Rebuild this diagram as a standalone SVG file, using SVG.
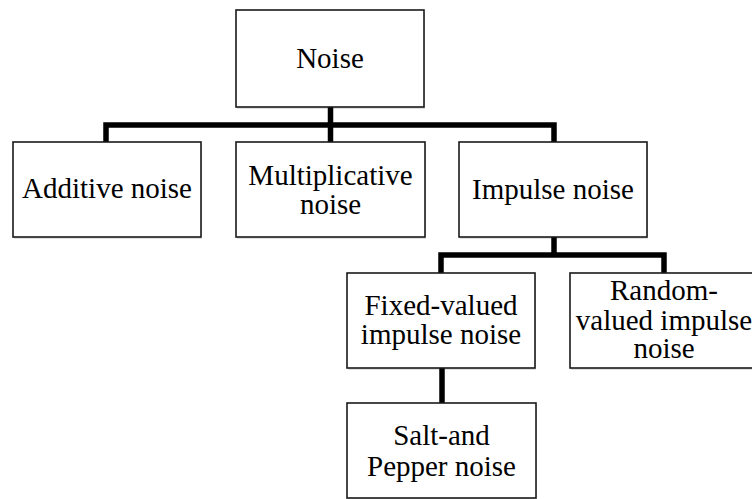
<svg xmlns="http://www.w3.org/2000/svg" width="752" height="499" viewBox="0 0 752 499">
  <style>
    .box { fill: #ffffff; stroke: #1a1a1a; stroke-width: 1.6; }
    .shade { fill: #000000; fill-opacity: 0.12; stroke: none; }
    .wire { fill: none; stroke: #000000; stroke-width: 5.5; stroke-linejoin: miter; stroke-linecap: butt; }
  </style>
  <rect width="752" height="499" fill="#ffffff"/>

  <g id="connectors">
    <path class="wire" d="M330.5 107 V142"/>
    <path class="wire" d="M106 142 V125 H554 V142"/>
    <path class="wire" d="M554 237 V255"/>
    <path class="wire" d="M441 273 V255 H664 V273"/>
    <path class="wire" d="M442 368 V403"/>
  </g>

  <g id="nodes">
    <g id="noise">
      <rect class="shade" x="237" y="12" width="188" height="97"/>
      <rect class="box" x="236" y="10" width="188" height="97"/>
      <text x="330" y="68" font-family="Liberation Serif" font-size="29" text-anchor="middle">Noise</text>
    </g>
    <g id="additive">
      <rect class="shade" x="14" y="144" width="188" height="95"/>
      <rect class="box" x="13" y="142" width="188" height="95"/>
      <text x="107" y="198" font-family="Liberation Serif" font-size="29" text-anchor="middle">Additive noise</text>
    </g>
    <g id="multiplicative">
      <rect class="shade" x="237" y="144" width="189" height="95"/>
      <rect class="box" x="236" y="142" width="189" height="95"/>
      <text x="330.5" y="185" font-family="Liberation Serif" font-size="29" text-anchor="middle">Multiplicative</text>
      <text x="330.5" y="214" font-family="Liberation Serif" font-size="29" text-anchor="middle">noise</text>
    </g>
    <g id="impulse">
      <rect class="shade" x="460" y="144" width="188" height="95"/>
      <rect class="box" x="459" y="142" width="188" height="95"/>
      <text x="553" y="199" font-family="Liberation Serif" font-size="29" text-anchor="middle">Impulse noise</text>
    </g>
    <g id="fixed-valued">
      <rect class="shade" x="348" y="275" width="188" height="95"/>
      <rect class="box" x="347" y="273" width="188" height="95"/>
      <text x="441" y="315" font-family="Liberation Serif" font-size="29" text-anchor="middle">Fixed-valued</text>
      <text x="441" y="344" font-family="Liberation Serif" font-size="29" text-anchor="middle">impulse noise</text>
    </g>
    <g id="random-valued">
      <rect class="shade" x="571" y="275" width="188" height="95"/>
      <rect class="box" x="570" y="273" width="188" height="95"/>
      <text x="664" y="300" font-family="Liberation Serif" font-size="29" text-anchor="middle">Random-</text>
      <text x="664" y="330" font-family="Liberation Serif" font-size="29" text-anchor="middle">valued impulse</text>
      <text x="664" y="358" font-family="Liberation Serif" font-size="29" text-anchor="middle">noise</text>
    </g>
    <g id="salt-pepper">
      <rect class="shade" x="348" y="405" width="189" height="95"/>
      <rect class="box" x="347" y="403" width="189" height="95"/>
      <text x="441.5" y="445" font-family="Liberation Serif" font-size="29" text-anchor="middle">Salt-and</text>
      <text x="441.5" y="476" font-family="Liberation Serif" font-size="29" text-anchor="middle">Pepper noise</text>
    </g>
  </g>
</svg>
